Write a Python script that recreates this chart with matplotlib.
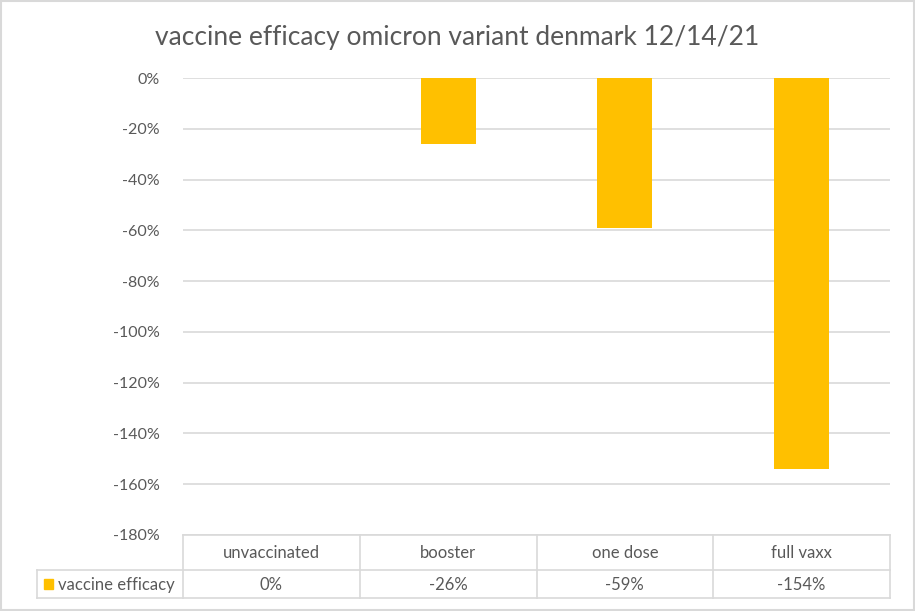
import matplotlib
matplotlib.use("Agg")
import matplotlib.pyplot as plt
from matplotlib.lines import Line2D
from matplotlib.patches import Rectangle

plt.rcParams['font.family'] = ['Lato', 'DejaVu Sans']

categories = ["unvaccinated", "booster", "one dose", "full vaxx"]
efficacy = [0, -26, -59, -154]
series_name = "vaccine efficacy"
title = "vaccine efficacy omicron variant denmark 12/14/21"
yticks = list(range(0, -181, -20))

W, H = 915, 611
fig = plt.figure(figsize=(W / 100, H / 100), dpi=100)
txt = "#595959"

# plot area in pixels
L, R, T, B = 183, 890, 78, 535
ax = fig.add_axes([L / W, 1 - B / H, (R - L) / W, (B - T) / H])
x = list(range(len(categories)))
ax.bar(x, efficacy, width=0.31, color="#FFC000", zorder=3)
ax.set_xlim(-0.5, len(categories) - 0.5)
ax.set_ylim(-180, 0)
ax.set_yticks(yticks)
ax.set_yticklabels([f"{v}%" for v in yticks], color=txt, fontsize=11.5)
ax.tick_params(axis='y', length=0, pad=17)
ax.set_xticks([])
ax.grid(axis='y', color="#D9D9D9", linewidth=1.2, zorder=0)
for s in ax.spines.values():
    s.set_visible(False)

fig.text(0.5, 1 - 38 / H, title, ha='center', va='center', fontsize=19, color=txt)

ov2 = fig.add_axes([0, 0, 1, 1], zorder=5)
ov2.set_xlim(0, W)
ov2.set_ylim(H, 0)
ov2.axis('off')
ov2.patch.set_alpha(0)

# outer frame
ov2.add_patch(Rectangle((0.5, 0.5), W - 2, H - 2, fill=False, edgecolor="#D9D9D9", linewidth=1.5))

lc = "#D9D9D9"
top, mid, bot = 535, 570, 598
leftcol = 37
colw = (R - L) / len(categories)
edges = [L + i * colw for i in range(len(categories) + 1)]
ov2.add_line(Line2D([L, R], [top, top], color=lc, lw=1.2))
ov2.add_line(Line2D([leftcol, R], [mid, mid], color=lc, lw=1.2))
ov2.add_line(Line2D([leftcol, R], [bot, bot], color=lc, lw=1.2))
ov2.add_line(Line2D([leftcol, leftcol], [mid, bot], color=lc, lw=1.2))
for e in edges:
    ov2.add_line(Line2D([e, e], [top, bot], color=lc, lw=1.2))

fs = 12
for i, (c, v) in enumerate(zip(categories, efficacy)):
    cx = (edges[i] + edges[i + 1]) / 2
    ov2.text(cx, (top + mid) / 2 + 1, c, ha='center', va='center', fontsize=fs, color=txt)
    ov2.text(cx, (mid + bot) / 2 + 1, f"{v}%", ha='center', va='center', fontsize=fs, color=txt)

ov2.add_patch(Rectangle((44, 579), 9, 10, color="#FFC000"))
ov2.text(58, (mid + bot) / 2 + 1, series_name, ha='left', va='center', fontsize=fs, color=txt)

fig.savefig("out.png", dpi=100)
